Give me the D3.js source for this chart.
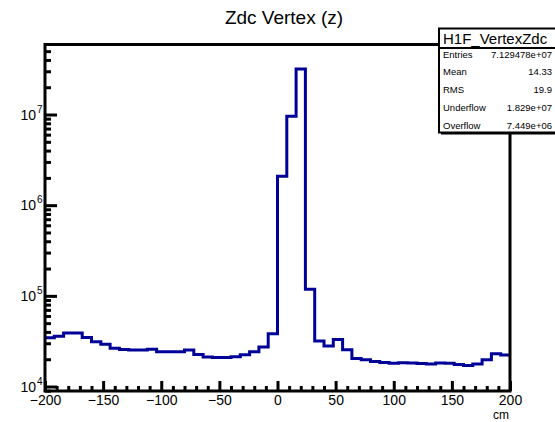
<!DOCTYPE html>
<html>
<head>
<meta charset="utf-8">
<script src="https://cdn.jsdelivr.net/npm/d3@7"></script>
<style>
  html, body { margin: 0; padding: 0; background: #fff; }
  svg { display: block; }
  text { font-family: "Liberation Sans", Arial, Helvetica, sans-serif; fill: #000; }
</style>
</head>
<body>
<svg id="chart" width="555" height="422"></svg>
<script>
// Zdc vertex z distribution: 50 bins of 8 cm from -200 to 200 cm
const binEdgesRange = [-200, 200];
const binCount = 50;
const counts = [
  34500, 35900, 38800, 38800, 34800, 31200, 29300, 26500, 25600, 25200,
  25200, 25800, 24200, 24200, 24200, 25300, 22600, 21100, 20900, 20900,
  21300, 22400, 24200, 27200, 38200, 2090000, 9600000, 31800000, 118000, 31700,
  27900, 33000, 25400, 20400, 19700, 18900, 18400, 18100, 18300, 18200,
  17900, 17700, 18200, 18100, 17500, 17000, 17700, 19700, 23000, 22200
];

const xTickMajor = [-200, -150, -100, -50, 0, 50, 100, 150, 200];
const yDecades = [4, 5, 6, 7];
const yRange = [8920, 5.92e7];

const statsTitle = "H1F_VertexZdc";
const statsLabels = ["Entries", "Mean", "RMS", "Underflow", "Overflow"];
const statsValues = ["7.129478e+07", "14.33", "19.9", "1.829e+07", "7.449e+06"];

const titleText = "Zdc Vertex (z)";
const xAxisTitle = "cm";

const svg = d3.select("#chart");
const frame = { left: 45, right: 510, top: 44.5, bottom: 391 };

const x = d3.scaleLinear().domain(binEdgesRange).range([frame.left, frame.right]);
const y = d3.scaleLog().domain(yRange).range([frame.bottom, frame.top]);

svg.append("rect").attr("width", 555).attr("height", 422).attr("fill", "#fff");

// histogram outline (step)
const binWidth = (binEdgesRange[1] - binEdgesRange[0]) / binCount;
const pts = counts.map((v, i) => [binEdgesRange[0] + i * binWidth, v]);
pts.push([binEdgesRange[1], counts[counts.length - 1]]);
const stepLine = d3.line()
  .x(d => x(d[0]))
  .y(d => y(d[1]))
  .curve(d3.curveStepAfter);
svg.append("path")
  .attr("d", stepLine(pts))
  .attr("fill", "none")
  .attr("stroke", "#000099")
  .attr("stroke-width", 3)
  .attr("stroke-linejoin", "miter");

// x axis ticks (inward)
const xMinor = d3.range(-200, 201, 10).filter(v => v % 50 !== 0);
const xAxis = d3.axisBottom(x).tickValues(xTickMajor).tickSize(-10).tickPadding(12)
  .tickFormat(d => d < 0 ? "\u2212" + Math.abs(d) : String(d));
const gx = svg.append("g").attr("transform", `translate(0,${frame.bottom})`).call(xAxis);
gx.select(".domain").remove();
gx.selectAll(".tick line").attr("stroke", "#000").attr("stroke-width", 3);
gx.selectAll(".tick text").attr("font-size", 14).attr("dy", "0.12em").style("font-family", "\"Liberation Sans\", Arial, sans-serif");
const gxm = d3.axisBottom(x).tickValues(xMinor).tickSize(-5).tickFormat("");
const gxMinor = svg.append("g").attr("transform", `translate(0,${frame.bottom})`).call(gxm);
gxMinor.select(".domain").remove();
gxMinor.selectAll(".tick line").attr("stroke", "#000").attr("stroke-width", 3);

// y axis ticks (inward)
const yMajorVals = yDecades.map(d => Math.pow(10, d));
const yMinorVals = [];
for (let d = 3; d <= 7; d++) {
  for (let m = 2; m <= 9; m++) {
    const v = m * Math.pow(10, d);
    if (v > yRange[0] && v < yRange[1]) yMinorVals.push(v);
  }
}
const gy = svg.append("g").attr("transform", `translate(${frame.left},0)`)
  .call(d3.axisLeft(y).tickValues(yMajorVals).tickSize(-12).tickFormat(""));
gy.select(".domain").remove();
gy.selectAll(".tick line").attr("stroke", "#000").attr("stroke-width", 3);
const gyMinor = svg.append("g").attr("transform", `translate(${frame.left},0)`)
  .call(d3.axisLeft(y).tickValues(yMinorVals).tickSize(-6).tickFormat(""));
gyMinor.select(".domain").remove();
gyMinor.selectAll(".tick line").attr("stroke", "#000").attr("stroke-width", 3);

// y tick labels as 10^n
yDecades.forEach(d => {
  svg.append("text")
    .attr("x", 36)
    .attr("y", y(Math.pow(10, d)) + 5)
    .attr("text-anchor", "end")
    .attr("font-size", 14)
    .text("10");
  svg.append("text")
    .attr("x", 37)
    .attr("y", y(Math.pow(10, d)) - 2)
    .attr("font-size", 10)
    .text(String(d));
});

// frame
svg.append("rect")
  .attr("x", frame.left).attr("y", frame.top)
  .attr("width", frame.right - frame.left).attr("height", frame.bottom - frame.top)
  .attr("fill", "none").attr("stroke", "#000").attr("stroke-width", 3);

// title
svg.append("text")
  .attr("x", 284).attr("y", 24)
  .attr("text-anchor", "middle")
  .attr("font-size", 19)
  .text(titleText);

// x axis title
svg.append("text")
  .attr("x", 509).attr("y", 419)
  .attr("text-anchor", "end")
  .attr("font-size", 12)
  .text(xAxisTitle);

// stats box
const box = { x: 439, y: 28.5, w: 120, h: 104 };
svg.append("rect")
  .attr("x", box.x + 2).attr("y", box.y + 2)
  .attr("width", box.w).attr("height", box.h)
  .attr("fill", "#000");
svg.append("rect")
  .attr("x", box.x).attr("y", box.y)
  .attr("width", box.w).attr("height", box.h)
  .attr("fill", "#fff").attr("stroke", "#000").attr("stroke-width", 2);
svg.append("line")
  .attr("x1", box.x).attr("x2", box.x + box.w)
  .attr("y1", 48).attr("y2", 48)
  .attr("stroke", "#000").attr("stroke-width", 2);
svg.append("text")
  .attr("x", 443).attr("y", 44)
  .attr("font-size", 15)
  .text(statsTitle);
const rowY = [58, 75, 93, 111, 129];
statsLabels.forEach((lab, i) => {
  svg.append("text").attr("x", 443).attr("y", rowY[i]).attr("font-size", 9.5).text(lab);
  svg.append("text").attr("x", 552).attr("y", rowY[i]).attr("font-size", 9.5)
    .attr("text-anchor", "end").text(statsValues[i]);
});
</script>
</body>
</html>
